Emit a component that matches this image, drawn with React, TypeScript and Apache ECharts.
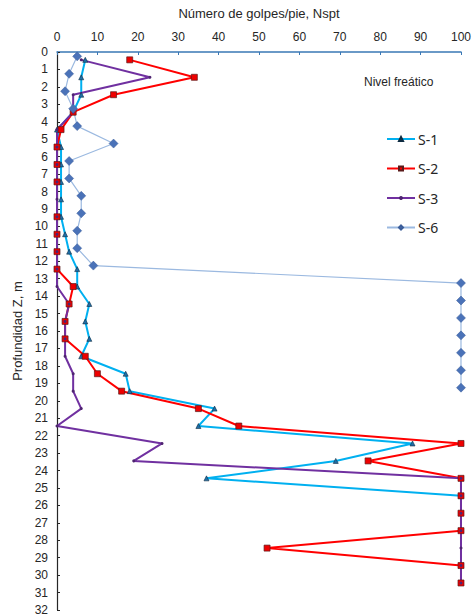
import React, { useEffect, useRef } from "react";
import * as echarts from "echarts";

// Depths (m)
const depthsMain = [
  0.45, 1.45, 2.45, 3.45, 4.45, 5.45, 6.45, 7.45, 8.45, 9.45, 10.45, 11.45, 12.45, 13.45, 14.45, 15.45,
  16.45, 17.45, 18.45, 19.45, 20.45, 21.45, 22.45, 23.45, 24.45, 25.45, 26.45, 27.45, 28.45, 29.45, 30.45,
];
const depthsS6 = [
  0.25, 1.25, 2.25, 3.25, 4.25, 5.25, 6.25, 7.25, 8.25, 9.25, 10.25, 11.25, 12.25, 13.25, 14.25, 15.25,
  16.25, 17.25, 18.25, 19.25,
];

// Nspt values
const s1 = [7, 6, 6, 4, 0, 1, 1, 1, 1, 1, 2, 3, 5, 5, 8, 7, 8, 6, 17, 18, 39, 35, 88, 69, 37, 100];
const s2 = [18, 34, 14, 4, 1, 0, 0, 0, null, 0, 0, 0, 0, 4, 3, 2, 2, 7, 10, 16, 35, 45, 100, 77, 100, 100, 100, 100, 52, 100, 100];
const s3 = [6, 23, 4, 4, 0, 0, 0, 0, 0, 0, 0, 0, 0, 0, 3, 2, 2, 2, 4, 4, 6, 0, 26, 19, 100, 100, 100, 100, 100, 100, 100];
const s6 = [5, 3, 2, 4, 5, 14, 3, 3, 6, 6, 5, 5, 9, 100, 100, 100, 100, 100, 100, 100];

const seriesNames = ["S-1", "S-2", "S-3", "S-6"];

function pairs(values: (number | null)[], depths: number[]) {
  const out: [number, number][] = [];
  values.forEach((v, i) => {
    if (v !== null && v !== undefined) out.push([v, depths[i]]);
  });
  return out;
}

export default function App() {
  const ref = useRef<HTMLDivElement>(null);
  useEffect(() => {
    if (!ref.current) return;
    const chart = echarts.init(ref.current, null, { renderer: "svg" });
    const font = "'Liberation Sans', Arial, sans-serif";
    chart.setOption({
      animation: false,
      backgroundColor: "#ffffff",
      grid: { left: 57, top: 52, right: 11, bottom: 3, containLabel: false },
      xAxis: {
        type: "value",
        position: "top",
        min: 0,
        max: 100,
        interval: 10,
        name: "Número de golpes/pie, Nspt",
        nameLocation: "middle",
        nameGap: 32,
        nameTextStyle: { fontFamily: font, fontSize: 13, color: "#262626" },
        axisLine: { show: true, lineStyle: { color: "#3a78b5", width: 1.5 } },
        axisTick: { show: true, inside: true, length: 3, lineStyle: { color: "#3a78b5" } },
        axisLabel: { fontFamily: font, fontSize: 12, color: "#262626", margin: 9 },
        splitLine: { show: false },
      },
      yAxis: {
        type: "value",
        inverse: true,
        min: 0,
        max: 32,
        interval: 1,
        name: "Profundidad Z, m",
        nameLocation: "middle",
        nameGap: 30,
        nameRotate: 90,
        nameTextStyle: { fontFamily: font, fontSize: 13, color: "#262626" },
        axisLine: { show: true, lineStyle: { color: "#262626", width: 1.2 } },
        axisTick: { show: true, inside: true, length: 3, lineStyle: { color: "#262626" } },
        axisLabel: { fontFamily: font, fontSize: 12, color: "#262626", margin: 9 },
        splitLine: { show: false },
      },
      legend: {
        orient: "vertical",
        left: 381,
        top: 125,
        itemWidth: 28,
        itemHeight: 5,
        itemGap: 11.5,
        data: seriesNames,
        textStyle: { fontFamily: "'Noto Sans', sans-serif", fontSize: 14, color: "#262626", lineHeight: 18, padding: [0, 0, 0, -2] },
      },
      graphic: [
        {
          type: "text",
          left: 364,
          top: 76,
          style: { text: "Nivel freático", fontFamily: font, fontSize: 12, fill: "#262626" },
        },
      ],
      series: [
        {
          name: "S-1",
          type: "line",
          data: pairs(s1, depthsMain),
          clip: false,
          lineStyle: { color: "#00b0f0", width: 2 },
          symbol: "triangle",
          symbolSize: 5,
          itemStyle: { color: "#1f6fa8", borderColor: "#0d2a40", borderWidth: 0.6 },
        },
        {
          name: "S-2",
          type: "line",
          data: pairs(s2, depthsMain),
          clip: false,
          lineStyle: { color: "#ff0000", width: 2 },
          symbol: "rect",
          symbolSize: 6,
          itemStyle: { color: "#ee0000", borderColor: "#5a1a1a", borderWidth: 0.7 },
        },
        {
          name: "S-3",
          type: "line",
          data: pairs(s3, depthsMain),
          clip: false,
          lineStyle: { color: "#7030a0", width: 2 },
          symbol: "circle",
          symbolSize: 3,
          itemStyle: { color: "#4e2470", borderWidth: 0 },
        },
        {
          name: "S-6",
          type: "line",
          data: pairs(s6, depthsS6),
          clip: false,
          lineStyle: { color: "#9bb9e0", width: 1.2 },
          symbol: "diamond",
          symbolSize: 9,
          itemStyle: { color: "#4a72b8", borderColor: "#3a5c98", borderWidth: 0.5 },
        },
      ],
    });
    return () => chart.dispose();
  }, []);
  return (
    <div
      ref={ref}
      style={{ position: "fixed", left: 0, top: 0, width: 474, height: 616, background: "#fff" }}
    />
  );
}
